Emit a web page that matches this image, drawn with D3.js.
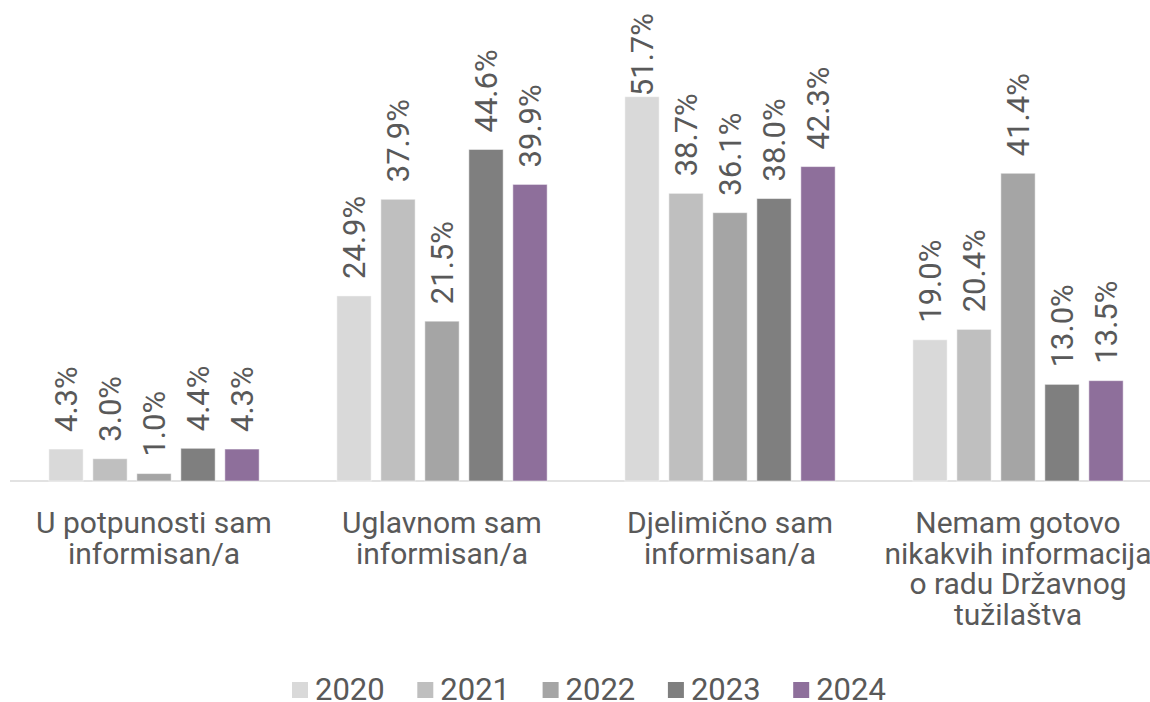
<!DOCTYPE html>
<html>
<head>
<meta charset="utf-8">
<script src="https://cdn.jsdelivr.net/npm/d3@7"></script>
<style>
	body { margin: 0; background: #fff; }
	text { font-family: Roboto, "Liberation Sans", sans-serif; fill: #595959; }
</style>
</head>
<body>
<div id="main"></div>
<script>
const categories = [
	["U potpunosti sam", "informisan/a"],
	["Uglavnom sam", "informisan/a"],
	["Djelimično sam", "informisan/a"],
	["Nemam gotovo", "nikakvih informacija", "o radu Državnog", "tužilaštva"]
];
const years = ["2020", "2021", "2022", "2023", "2024"];
const v2020 = [4.3, 24.9, 51.7, 19.0];
const v2021 = [3.0, 37.9, 38.7, 20.4];
const v2022 = [1.0, 21.5, 36.1, 41.4];
const v2023 = [4.4, 44.6, 38.0, 13.0];
const v2024 = [4.3, 39.9, 42.3, 13.5];
const colors = ["#d9d9d9", "#bfbfbf", "#a5a5a5", "#7f7f7f", "#8e6f9b"];

const series = [v2020, v2021, v2022, v2023, v2024];
const rows = categories.map((c, i) => ({
	key: i,
	lines: c,
	vals: years.map((y, j) => ({year: y, value: series[j][i], color: colors[j]}))
}));

const W = 1150, H = 702;

const svg = d3.select("#main")
	.append("svg")
		.attr("width", W)
		.attr("height", H);

let x0 = d3.scaleBand()
	.domain(rows.map(d => d.key))
	.range([10, 1162]);

let x1 = d3.scaleBand()
	.domain(years)
	.range([34, 254])
	.paddingInner(0.22)
	.paddingOuter(0.11);

let y = d3.scaleLinear()
	.domain([0, 60])
	.range([481, 35]);

// baseline
svg.append("line")
	.attr("x1", 10).attr("x2", W)
	.attr("y1", y(0)).attr("y2", y(0))
	.style("stroke", "#d9d9d9")
	.style("stroke-width", 1.3);

const groups = svg.selectAll("g.grp")
	.data(rows)
	.enter()
	.append("g")
		.attr("class", "grp")
		.attr("transform", d => `translate(${x0(d.key)},0)`);

groups.selectAll("rect")
	.data(d => d.vals)
	.enter()
	.append("rect")
		.attr("x", d => x1(d.year))
		.attr("y", d => y(d.value))
		.attr("width", x1.bandwidth())
		.attr("height", d => y(0) - y(d.value))
		.style("fill", d => d.color)
		.style("stroke", "#ffffff")
		.style("stroke-opacity", 0.5)
		.style("stroke-width", 1);

// value labels, rotated; pushed down when they would leave the top
groups.selectAll("text.val")
	.data(d => d.vals)
	.enter()
	.append("text")
		.attr("class", "val")
		.style("font-size", "31px")
		.attr("dominant-baseline", "central")
		.text(d => d.value.toFixed(1) + "%")
		.each(function(d) {
			let len = this.getComputedTextLength();
			let cx = x1(d.year) + x1.bandwidth() / 2;
			let start = y(d.value) - 17;
			if (start - len < 13) start = 13 + len;
			d3.select(this).attr("transform", `translate(${cx},${start}) rotate(-90)`);
		});

// category labels
groups.append("text")
	.attr("class", "cat")
	.attr("text-anchor", "middle")
	.style("font-size", "30px")
	.selectAll("tspan")
	.data(d => d.lines)
	.enter()
	.append("tspan")
		.attr("x", x0.bandwidth() / 2)
		.attr("y", (d, i) => 533 + i * 30.5)
		.text(d => d);

// legend
const legend = svg.append("g")
	.selectAll("g")
	.data(years)
	.enter()
	.append("g")
		.attr("transform", (d, i) => `translate(${292 + i * 125.3},0)`);

legend.append("rect")
	.attr("x", 0).attr("y", 682)
	.attr("width", 16).attr("height", 16)
	.style("fill", (d, i) => colors[i]);

legend.append("text")
	.attr("x", 23).attr("y", 700)
	.style("font-size", "31px")
	.text(d => d);
</script>
</body>
</html>
